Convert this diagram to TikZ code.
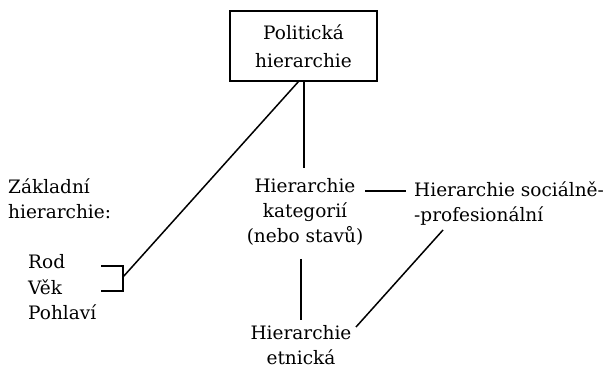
\documentclass[tikz,border=0pt]{standalone}
\usepackage{fontspec}
\setmainfont{DejaVu Serif}
\begin{document}
\begin{tikzpicture}[x=1pt,y=-1pt,
  txt/.style={font=\fontsize{18.5}{25}\selectfont, inner sep=0pt, align=center},
  ltxt/.style={font=\fontsize{18.5}{25}\selectfont, inner sep=0pt, align=left, anchor=west},
  conn/.style={line width=1.5pt}]
\useasboundingbox (0,0) rectangle (605,371);
\node[draw, line width=1.5pt, minimum width=147pt, minimum height=70pt, inner sep=0pt,
      align=center, font=\fontsize{18.5}{28}\selectfont] (pol) at (303.5,46) {Politická\\hierarchie};
\node[txt] (kat) at (305,212) {Hierarchie\\kategorií\\(nebo stavů)};
\node[ltxt] (soc) at (414,203.5) {Hierarchie sociálně-\\-profesionální};
\node[txt] (etn) at (301,345) {Hierarchie\\etnická};
\node[ltxt] (zak) at (8,199) {Základní\\hierarchie:};
\node[ltxt] (rod) at (28,262) {Rod};
\node[ltxt] (vek) at (28,287) {Věk};
\node[ltxt] (poh) at (28,312) {Pohlaví};
% connector end points
\coordinate (polA) at (304,81);
\coordinate (katT) at (304,168);
\coordinate (polB) at (299,81);
\coordinate (brM) at (123,277);
\coordinate (brT) at (123,266);
\coordinate (brB) at (123,291);
\coordinate (brTL) at (101,266);
\coordinate (brBL) at (101,291);
\coordinate (katR) at (365,191);
\coordinate (socL) at (406,191);
\coordinate (katB) at (301,259);
\coordinate (etnT) at (301,320);
\coordinate (etnR) at (356,327);
\coordinate (socB) at (443,230);
\draw[conn] (polA) -- (katT);
\draw[conn] (polB) -- (brM);
\draw[conn] (brTL) -- (brT) -- (brB) -- (brBL);
\draw[conn] (katR) -- (socL);
\draw[conn] (katB) -- (etnT);
\draw[conn] (etnR) -- (socB);
\end{tikzpicture}
\end{document}
